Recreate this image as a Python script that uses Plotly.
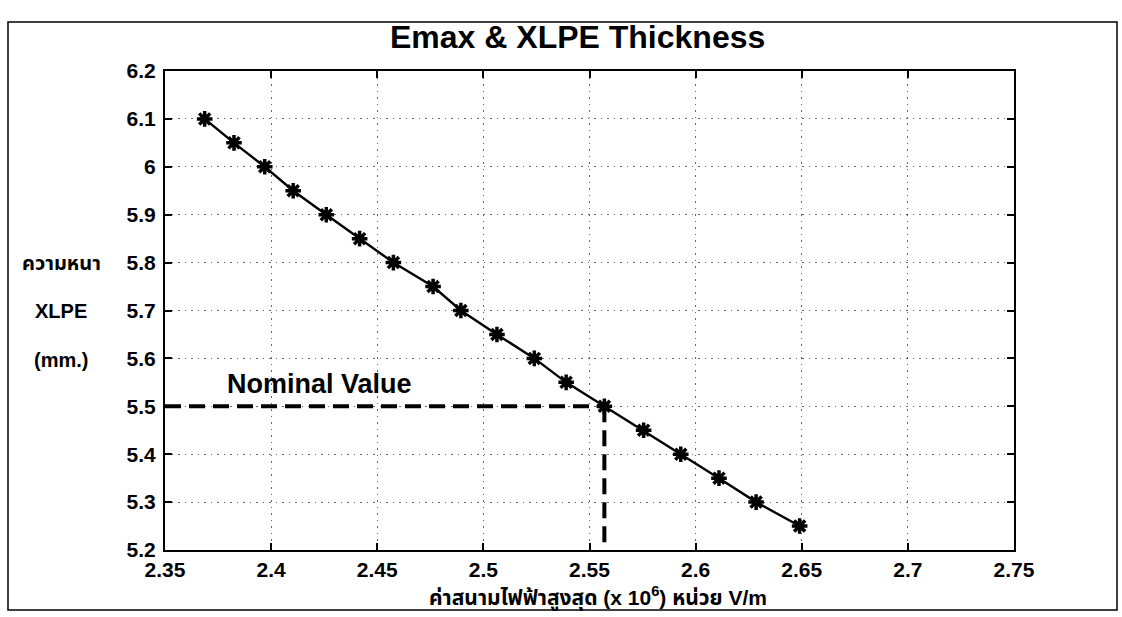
import plotly.graph_objects as go

# Maximum electric field (x 10^6 V/m) against XLPE insulation thickness (mm)
emax = [2.3687, 2.3825, 2.3970, 2.4104, 2.4260, 2.4417, 2.4576, 2.4763, 2.4894,
        2.5064, 2.5240, 2.5390, 2.5570, 2.5755, 2.5930, 2.6110, 2.6285, 2.6490]
thickness = [6.10, 6.05, 6.00, 5.95, 5.90, 5.85, 5.80, 5.75, 5.70,
             5.65, 5.60, 5.55, 5.50, 5.45, 5.40, 5.35, 5.30, 5.25]

nominal_thickness = 5.50
nominal_emax = emax[thickness.index(nominal_thickness)]

x_range = [2.35, 2.75]
y_range = [5.2, 6.2]
x_tickvals = [2.35, 2.40, 2.45, 2.50, 2.55, 2.60, 2.65, 2.70, 2.75]
x_ticktext = ["2.35", "2.4", "2.45", "2.5", "2.55", "2.6", "2.65", "2.7", "2.75"]
y_tickvals = [5.2, 5.3, 5.4, 5.5, 5.6, 5.7, 5.8, 5.9, 6.0, 6.1, 6.2]
y_ticktext = ["5.2", "5.3", "5.4", "5.5", "5.6", "5.7", "5.8", "5.9", "6", "6.1", "6.2"]

FONT = "Liberation Sans, Arial, Noto Sans Thai, Tlwg Typo, sans-serif"
W, H = 1122, 617
M = dict(l=165, r=108, t=71, b=67)

fig = go.Figure()

# nominal value guide lines
guide = dict(color="black", width=4, dash="16px,8px")
fig.add_trace(go.Scatter(
    x=[x_range[0], nominal_emax], y=[nominal_thickness, nominal_thickness],
    mode="lines", line=guide, hoverinfo="skip", showlegend=False))
fig.add_trace(go.Scatter(
    x=[nominal_emax, nominal_emax], y=[nominal_thickness, y_range[0]],
    mode="lines", line=guide, hoverinfo="skip", showlegend=False))

# measured curve
fig.add_trace(go.Scatter(
    x=emax, y=thickness, mode="lines+markers",
    line=dict(color="black", width=2.4),
    marker=dict(symbol="asterisk-open", size=13, color="black",
                line=dict(color="black", width=3.5)),
    showlegend=False))

axis_common = dict(
    showline=True, linecolor="black", linewidth=2, mirror="allticks",
    ticks="inside", ticklen=7, tickwidth=1.5, tickcolor="black",
    showgrid=True, gridcolor="rgba(0,0,0,0.6)", gridwidth=1.3, griddash="1.5px,5px",
    zeroline=False,
    tickfont=dict(family=FONT, size=21, color="black", weight="bold"),
)

fig.update_xaxes(range=x_range, tickvals=x_tickvals, ticktext=x_ticktext,
                 ticklabelstandoff=0, **axis_common)
fig.update_yaxes(range=y_range, tickvals=y_tickvals, ticktext=y_ticktext,
                 ticklabelstandoff=3, **axis_common)

pw = W - M["l"] - M["r"]
ph = H - M["t"] - M["b"]


def px_x(px):
    return (px - M["l"]) / pw


def px_y(py):
    return (H - M["b"] - py) / ph


annotations = [
    dict(text="Emax & XLPE Thickness", x=px_x(577), y=px_y(37),
         font=dict(size=32, weight="bold")),
    dict(text="ความหนา", x=px_x(61), y=px_y(263), font=dict(size=20, weight="bold")),
    dict(text="XLPE", x=px_x(61), y=px_y(311), font=dict(size=20, weight="bold")),
    dict(text="(mm.)", x=px_x(61), y=px_y(360), font=dict(size=20, weight="bold")),
    dict(text="ค่าสนามไฟฟ้าสูงสุด (x 10<sup>6</sup>) หน่วย V/m",
         x=px_x(598), y=px_y(597), font=dict(size=21, weight="bold")),
]
for a in annotations:
    a.update(xref="paper", yref="paper", showarrow=False,
             xanchor="center", yanchor="middle")
    a["font"].update(family=FONT, color="black")

# label sitting just above the nominal guide line
annotations.append(dict(
    text="Nominal Value", x=2.423, y=5.546, xref="x", yref="y",
    showarrow=False, xanchor="center", yanchor="middle",
    font=dict(family=FONT, size=27, color="black", weight="bold")))

# outer frame around the whole figure
shapes = [dict(type="rect", xref="paper", yref="paper",
               x0=px_x(8), x1=px_x(1117), y0=px_y(610), y1=px_y(22),
               line=dict(color="black", width=1.5), layer="below")]

fig.update_layout(
    width=W, height=H, margin=M,
    paper_bgcolor="white", plot_bgcolor="white",
    font=dict(family=FONT, color="black"),
    annotations=annotations, shapes=shapes,
)

fig.write_html("out.html")
